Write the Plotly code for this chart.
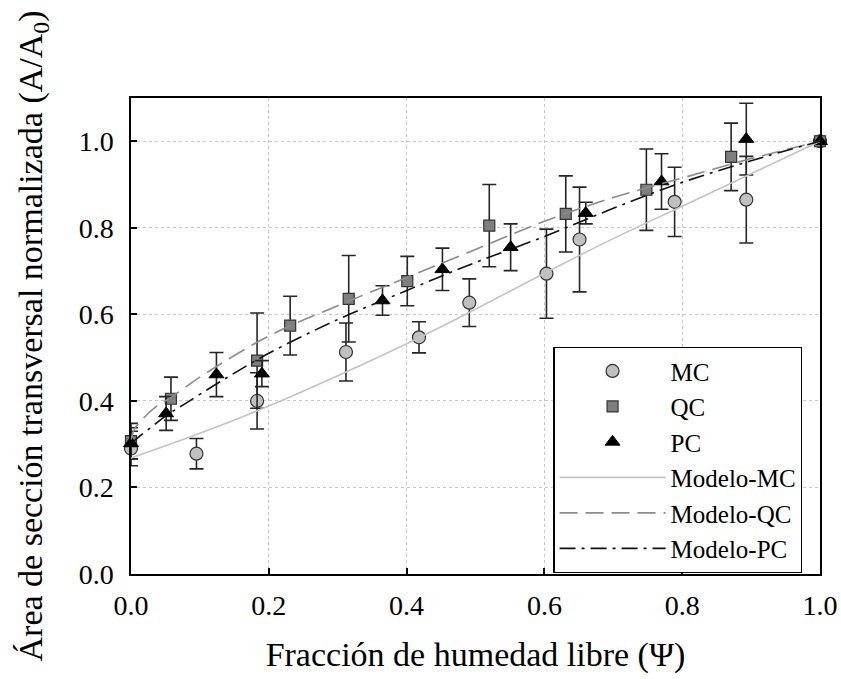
import plotly.graph_objects as go

mc_x = [0.0, 0.095, 0.183, 0.312, 0.418, 0.491, 0.603, 0.651, 0.789, 0.893, 1.0]
mc_y = [0.29, 0.278, 0.40, 0.513, 0.547, 0.627, 0.694, 0.773, 0.860, 0.865, 1.0]
mc_err = [0.04, 0.035, 0.065, 0.067, 0.036, 0.055, 0.103, 0.121, 0.08, 0.1, 0.0]

qc_x = [0.0, 0.058, 0.183, 0.231, 0.316, 0.401, 0.520, 0.631, 0.748, 0.871, 1.0]
qc_y = [0.307, 0.405, 0.493, 0.574, 0.636, 0.677, 0.805, 0.832, 0.888, 0.964, 1.0]
qc_err = [0.041, 0.05, 0.11, 0.068, 0.1, 0.057, 0.095, 0.088, 0.094, 0.078, 0.0]

pc_x = [0.0, 0.051, 0.124, 0.19, 0.365, 0.452, 0.551, 0.660, 0.770, 0.893, 1.0]
pc_y = [0.302, 0.371, 0.461, 0.463, 0.632, 0.704, 0.755, 0.834, 0.907, 1.005, 1.0]
pc_err = [0.036, 0.039, 0.051, 0.03, 0.034, 0.049, 0.054, 0.025, 0.064, 0.083, 0.0]

# Model curves
mc_model_x = [0, 0.1, 0.2, 0.3, 0.4, 0.5, 0.6, 0.7, 0.8, 0.9, 1.0]
mc_model_y = [0.268, 0.325, 0.388, 0.458, 0.532, 0.612, 0.695, 0.775, 0.850, 0.925, 1.0]

qc_model_x = [0, 0.005, 0.015, 0.035, 0.06, 0.1, 0.2, 0.3, 0.4, 0.5, 0.6, 0.7, 0.8, 0.9, 1.0]
qc_model_y = [0.31, 0.335, 0.355, 0.385, 0.41, 0.455, 0.55, 0.62, 0.685, 0.75, 0.815, 0.87, 0.915, 0.96, 1.0]

pc_model_x = [0, 0.01, 0.03, 0.05, 0.08, 0.13, 0.2, 0.3, 0.4, 0.5, 0.6, 0.7, 0.8, 0.9, 1.0]
pc_model_y = [0.30, 0.315, 0.34, 0.365, 0.395, 0.445, 0.51, 0.588, 0.655, 0.72, 0.78, 0.845, 0.905, 0.955, 1.0]

tick_vals = [0.0, 0.2, 0.4, 0.6, 0.8, 1.0]
tick_text = ["0.0", "0.2", "0.4", "0.6", "0.8", "1.0"]

FONT = "Liberation Serif, Times New Roman, serif"
ERRC = "#262626"

fig = go.Figure()

def err(vals):
    return dict(type="data", array=vals, visible=True, color=ERRC, thickness=1.6, width=7)

fig.add_trace(go.Scatter(x=mc_x, y=mc_y, mode="markers", name="MC", error_y=err(mc_err),
                         marker=dict(symbol="circle", size=13, color="#c0c0c0",
                                     line=dict(color="#333333", width=1.2)), cliponaxis=False))
fig.add_trace(go.Scatter(x=qc_x, y=qc_y, mode="markers", name="QC", error_y=err(qc_err),
                         marker=dict(symbol="square", size=11, color="#7f7f7f",
                                     line=dict(color="#333333", width=1.2)), cliponaxis=False))
fig.add_trace(go.Scatter(x=pc_x, y=pc_y, mode="markers", name="PC", error_y=err(pc_err),
                         marker=dict(symbol="triangle-up", size=13, color="#000000",
                                     line=dict(color="#000000", width=1)), cliponaxis=False))

fig.add_trace(go.Scatter(x=mc_model_x, y=mc_model_y, mode="lines", name="Modelo-MC",
                         line=dict(color="#c4c4c4", width=1.6, shape="spline")))
fig.add_trace(go.Scatter(x=qc_model_x, y=qc_model_y, mode="lines", name="Modelo-QC",
                         line=dict(color="#8c8c8c", width=1.6, dash="18px,8px", shape="spline")))
fig.add_trace(go.Scatter(x=pc_model_x, y=pc_model_y, mode="lines", name="Modelo-PC",
                         line=dict(color="#111111", width=1.6, dash="16px,6px,3px,6px", shape="spline")))

axis_common = dict(
    showline=True, linecolor="black", linewidth=1.5, mirror=True,
    ticks="inside", ticklen=6, tickwidth=1.5, tickcolor="black",
    showgrid=True, gridcolor="#c8c8c8", griddash="dot", gridwidth=1,
    zeroline=False, tickfont=dict(family=FONT, size=28, color="black"),
    tickvals=tick_vals, ticktext=tick_text, automargin=False,
)

fig.update_xaxes(range=[0, 1.0], title=dict(text="Fracción de humedad libre (Ψ)",
                 font=dict(family=FONT, size=34, color="black"), standoff=22),
                 ticklabelstandoff=6, **axis_common)
fig.update_yaxes(range=[0, 1.1], title=dict(text="Área de sección transversal normalizada (A/A<sub>0</sub>)",
                 font=dict(family=FONT, size=34, color="black"), standoff=26),
                 ticklabelstandoff=10, **axis_common)

fig.update_layout(
    width=841, height=679,
    margin=dict(l=131, r=21, t=98, b=105),
    paper_bgcolor="white", plot_bgcolor="white",
    font=dict(family=FONT, color="black"),
    legend=dict(x=0.613, y=0.477, xanchor="left", yanchor="top",
                bordercolor="black", borderwidth=1.2, bgcolor="white",
                font=dict(family=FONT, size=25, color="black"),
                itemwidth=106, tracegroupgap=0),
    showlegend=True,
)

fig.write_html("out.html", config={"displayModeBar": False},
               post_script="document.body.style.margin='0px';document.body.style.overflow='hidden';")
